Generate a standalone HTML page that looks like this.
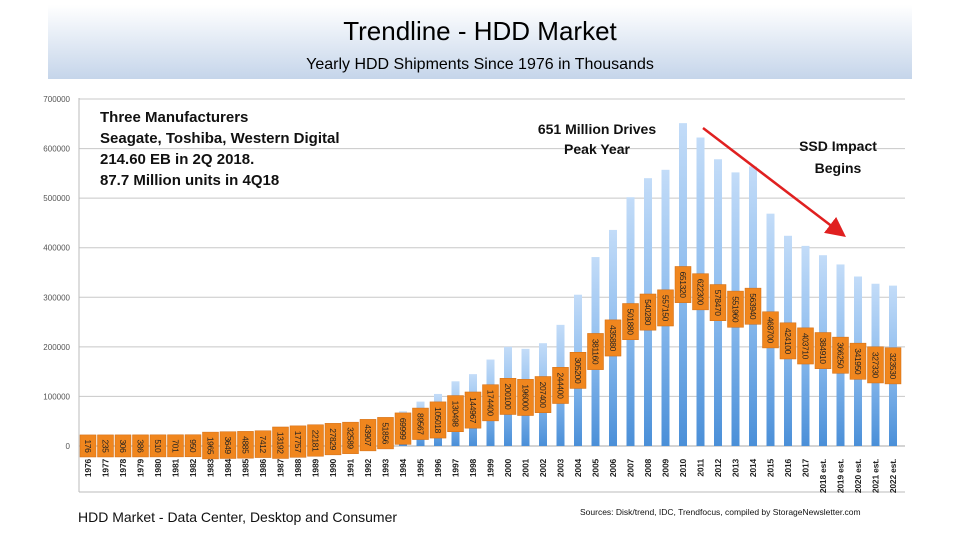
<!DOCTYPE html>
<html><head><meta charset="utf-8"><style>
body{margin:0;width:960px;height:540px;background:#fff;overflow:hidden;font-family:"Liberation Sans",sans-serif}
</style></head><body>
<svg width="960" height="540" xmlns="http://www.w3.org/2000/svg">
<defs>
<linearGradient id="hdr" x1="0" y1="0" x2="0" y2="1"><stop offset="0" stop-color="#ffffff"/><stop offset="1" stop-color="#c5d5ea"/></linearGradient>
<linearGradient id="bar" x1="0" y1="0" x2="0" y2="1"><stop offset="0" stop-color="#c3dcf8"/><stop offset="0.5" stop-color="#8dbcee"/><stop offset="1" stop-color="#4a8fd8"/></linearGradient>
<marker id="ah" markerWidth="8" markerHeight="8" refX="6" refY="4" orient="auto"><path d="M0,0 L8,4 L0,8 z" fill="#e02020"/></marker>
</defs>
<rect x="48" y="5" width="864" height="74" fill="url(#hdr)"/>
<text x="480" y="40" text-anchor="middle" font-size="26" fill="#000">Trendline - HDD Market</text>
<text x="480" y="69" text-anchor="middle" font-size="16" fill="#000">Yearly HDD Shipments Since 1976 in Thousands</text>
<g id="grid"></g>
<g id="bars"></g>
<g id="labels"></g>
<g id="xlabels"></g>
<text x="100" y="122" font-size="15" font-weight="bold" fill="#111"><tspan x="100" dy="0">Three Manufacturers</tspan><tspan x="100" dy="21">Seagate, Toshiba, Western Digital</tspan><tspan x="100" dy="21">214.60 EB in 2Q 2018.</tspan><tspan x="100" dy="21">87.7 Million units in 4Q18</tspan></text>
<text x="597" y="134" text-anchor="middle" font-size="14" font-weight="bold" fill="#111"><tspan x="597" dy="0">651 Million Drives</tspan><tspan x="597" dy="20">Peak Year</tspan></text>
<text x="838" y="151" text-anchor="middle" font-size="14" font-weight="bold" fill="#111"><tspan x="838" dy="0">SSD Impact</tspan><tspan x="838" dy="22">Begins</tspan></text>
<line x1="703" y1="128" x2="842" y2="234" stroke="#e02020" stroke-width="2.5" marker-end="url(#ah)"/>
<text x="78" y="522" font-size="14" fill="#111">HDD Market -  Data Center, Desktop and Consumer</text>
<text x="580" y="515" font-size="8.5" fill="#111">Sources: Disk/trend, IDC, Trendfocus, compiled by StorageNewsletter.com</text>
</svg>
<script>
const years=["1976","1977","1978","1979","1980","1981","1982","1983","1984","1985","1986","1987","1988","1989","1990","1991","1992","1993","1994","1995","1996","1997","1998","1999","2000","2001","2002","2003","2004","2005","2006","2007","2008","2009","2010","2011","2012","2013","2014","2015","2016","2017","2018 est.","2019 est.","2020 est.","2021 est.","2022 est."];
const shipments=[176,235,306,386,510,701,950,1965,3649,4885,7412,13192,17757,22181,27829,32589,43907,51856,69999,89567,105018,130498,144967,174400,200100,196000,207400,244400,305200,381160,435880,501880,540280,557150,651320,622300,578470,551960,563940,468700,424100,403710,384910,366250,341950,327330,323530];
const yTicks=[0,100000,200000,300000,400000,500000,600000,700000];
const NS="http://www.w3.org/2000/svg";
const X0=88,STEP=17.5,Y0=446,PX=49.57/100000;
const xs=i=>X0+i*STEP, ys=v=>Y0-v*PX;
function mk(t,a,p){const e=document.createElementNS(NS,t);for(const k in a)e.setAttribute(k,a[k]);p.appendChild(e);return e;}
const grid=document.getElementById('grid');
yTicks.forEach(v=>{
 const l=mk('line',{x1:79,x2:905,y1:ys(v),y2:ys(v),stroke:v===0?'#aaa':'#c8c8c8','stroke-width':1},grid);
 
 
 const t=mk('text',{x:70,y:ys(v)+3,'text-anchor':'end','font-size':8,fill:'#555'},grid);
 t.textContent=v;
 
 
});
const ax=mk('line',{x1:79,x2:79,y1:98,y2:492,stroke:'#bbb'},grid);


const bx=mk('line',{x1:79,x2:905,y1:492,y2:492,stroke:'#bbb'},grid);


const bars=document.getElementById('bars'),labs=document.getElementById('labels'),xl=document.getElementById('xlabels');
shipments.forEach((v,i)=>{
 const x=xs(i);
 const r=mk('rect',{x:x-4,y:ys(v),width:8,height:Math.max(0,Y0-ys(v)),fill:'url(#bar)'},bars);
 
 
 const s=String(v), h=s.length*4.7+8, cy=ys(v*0.5);
 const b=mk('rect',{x:x-8,y:cy-h/2,width:16,height:h,fill:'#f0861e',stroke:'#d06a10','stroke-width':0.5},labs);
 
 
 const t=mk('text',{x:0,y:0,transform:`translate(${x-3.2},${cy}) rotate(90)`,'text-anchor':'middle','font-size':8.5,'letter-spacing':'-0.4',fill:'#222'},labs);
 t.textContent=s;
 
 
 const yt=mk('text',{x:0,y:0,transform:`translate(${x+3.2},${459}) rotate(-90)`,'text-anchor':'end','font-size':8.5,'font-weight':'bold','letter-spacing':'-0.2',fill:'#222'},xl);
 yt.textContent=years[i];
 
 
});
</script>
</body></html>
